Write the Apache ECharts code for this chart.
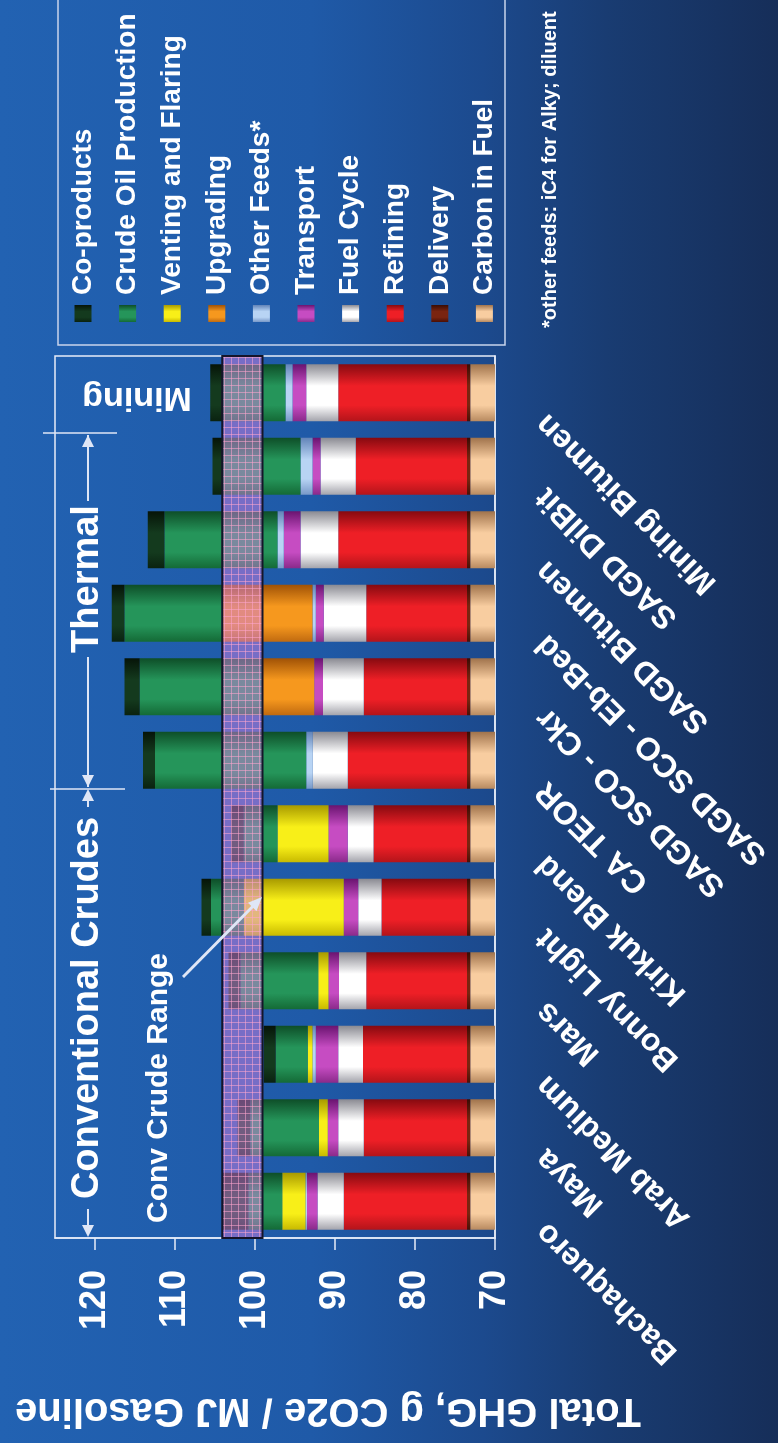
<!DOCTYPE html>
<html><head><meta charset="utf-8">
<script src="https://cdn.jsdelivr.net/npm/echarts@6/dist/echarts.min.js"></script>
<style>
html,body{margin:0;padding:0;background:#1c4a8e;overflow:hidden;}
#wrap{position:absolute;left:0;top:0;width:778px;height:1443px;overflow:hidden;}
#chart{position:absolute;left:0;top:0;width:1443px;height:778px;transform-origin:0 0;transform:translate(0,1443px) rotate(-90deg);
background:linear-gradient(to bottom,#2262b2 0%,#1f5aa8 40%,#1c4a8e 62%,#193c72 78%,#162e59 100%);}
</style></head><body>
<div id="wrap"><div id="chart"></div></div>
<script>
const categories = ['Bachaquero','Maya','Arab Medium','Mars','Bonny Light','Kirkuk Blend','CA TEOR','SAGD SCO - Ckr','SAGD SCO - Eb-Bed','SAGD Bitumen','SAGD DilBit','Mining Bitumen'];
const valueTicks = [70, 80, 90, 100, 110, 120];
const carbonInFuel = [73.1, 73.1, 73.1, 73.1, 73.1, 73.1, 73.1, 73.1, 73.1, 73.1, 73.1, 73.1];
const delivery     = [0.4, 0.4, 0.4, 0.4, 0.4, 0.4, 0.4, 0.4, 0.4, 0.4, 0.4, 0.4];
const refining     = [15.4, 12.9, 13.0, 12.6, 10.7, 11.7, 14.9, 12.9, 12.6, 16.1, 13.9, 16.1];
const fuelCycle    = [3.3, 3.2, 3.1, 3.4, 2.9, 3.2, 4.4, 5.1, 5.3, 4.7, 4.4, 4.0];
const transport    = [1.3, 1.3, 2.8, 1.3, 1.8, 2.4, 0, 1.1, 1.0, 2.1, 1.0, 1.7];
const otherFeeds   = [0.2, 0, 0.4, 0, 0, 0, 0.8, 0, 0.4, 0.8, 1.5, 0.9];
const upgrading    = [0, 0, 0, 0, 0, 0, 0, 6.5, 11.3, 0, 0, 0];
const venting      = [2.9, 1.1, 0.6, 1.3, 12.5, 6.4, 0, 0, 0, 0, 0, 0];
const crudeProd    = [4.2, 8.6, 4.0, 9.7, 4.1, 4.2, 18.9, 15.3, 12.2, 14.1, 9.7, 7.8];
const coProducts   = [3.3, 1.6, 1.5, 1.5, 1.2, 1.6, 1.5, 1.9, 1.6, 2.1, 1.3, 1.6];
const convRange    = [99.06, 104.1];

const FONT = 'Liberation Sans, Arial, Helvetica, sans-serif';
function cyl(edge, bright, edge2) {
  return new echarts.graphic.LinearGradient(0, 0, 1, 0, [
    {offset: 0, color: edge}, {offset: 0.28, color: bright}, {offset: 0.62, color: bright}, {offset: 1, color: edge2 || edge}
  ]);
}
const seriesDefs = [
  ['Carbon in Fuel', carbonInFuel, cyl('#b88a60', '#f8cda0', '#a0734c')],
  ['Delivery', delivery, cyl('#4a1006', '#7a2410', '#3a0c04')],
  ['Refining', refining, cyl('#b4141a', '#ee1f26', '#860a10')],
  ['Fuel Cycle', fuelCycle, cyl('#a4a4ac', '#ffffff', '#8a8a92')],
  ['Transport', transport, cyl('#8a2a8a', '#c64cc2', '#6a1470')],
  ['Other Feeds*', otherFeeds, cyl('#7898c8', '#b8d4f4', '#6284b8')],
  ['Upgrading', upgrading, cyl('#c06a10', '#f6981e', '#a05206')],
  ['Venting and Flaring', venting, cyl('#c8ba00', '#f8ef18', '#a89a00')],
  ['Crude Oil Production', crudeProd, cyl('#146a36', '#25955a', '#0e4e28')],
  ['Co-products', coProducts, cyl('#0a2210', '#143a1e', '#061408')]
];

const pat = document.createElement('canvas');
pat.width = 7; pat.height = 7;
const pg = pat.getContext('2d');
pg.fillStyle = 'rgba(205,125,225,0.5)'; pg.fillRect(0, 0, 7, 7);
pg.fillStyle = 'rgba(255,165,205,0.55)'; pg.fillRect(0, 0, 7, 1); pg.fillRect(0, 0, 1, 7);

const series = seriesDefs.map(function (d, i) {
  const s = {
    name: d[0], type: 'bar', stack: 'total', barWidth: 57, data: d[1],
    itemStyle: {color: d[2]}, emphasis: {disabled: true}, animation: false
  };
  if (i === seriesDefs.length - 1) {
    s.markArea = {
      silent: true, z: 10,
      itemStyle: {color: {image: pat, repeat: 'repeat'}, borderColor: '#15152a', borderWidth: 2},
      data: [[{yAxis: convRange[0]}, {yAxis: convRange[1]}]]
    };
  }
  return s;
});

const W = '#ffffff', LINE = '#dfe6f6';
function arrowHead(tx, ty, dx, dy, len, half) {
  const bx = tx - dx * len, by = ty - dy * len;
  return {type: 'polygon', silent: true, z: 20,
    shape: {points: [[tx, ty], [bx - dy * half, by + dx * half], [bx + dy * half, by - dx * half]]},
    style: {fill: LINE}};
}
function seg(x1, y1, x2, y2, w) {
  return {type: 'line', silent: true, z: 20, shape: {x1: x1, y1: y1, x2: x2, y2: y2}, style: {stroke: LINE, lineWidth: w || 2}};
}
function txt(t, x, y, size, opts) {
  return Object.assign({type: 'text', silent: true, z: 20, x: x, y: y,
    style: {text: t, fill: W, font: 'bold ' + size + 'px ' + FONT, textAlign: 'center', textVerticalAlign: 'middle'}}, opts || {});
}
const cdx = 80 / Math.hypot(80, 79), cdy = 79 / Math.hypot(80, 79);
const graphics = [
  {type: 'rect', silent: true, shape: {x: 1098, y: 58, width: 370, height: 447}, style: {fill: 'none', stroke: '#c8d4ec', lineWidth: 1.5}},
  seg(654, 50, 654, 125, 1.5), seg(1010, 43, 1010, 117, 1.5),
  seg(208, 88, 234, 88), arrowHead(206, 88, -1, 0, 12, 6),
  seg(636, 88, 652, 88), arrowHead(654, 88, 1, 0, 12, 6),
  txt('Conventional Crudes', 435, 88, 38),
  seg(656, 88, 786, 88), arrowHead(656, 88, -1, 0, 12, 6),
  seg(942, 88, 1008, 88), arrowHead(1008, 88, 1, 0, 12, 6),
  txt('Thermal', 864, 88, 38),
  txt('Mining', 1046, 137, 34, {rotation: Math.PI / 2}),
  txt('Conv Crude Range', 355, 159, 30),
  seg(466, 183, 546 - cdx * 10, 262 - cdy * 10, 3), arrowHead(546, 262, cdx, cdy, 14, 6),
  txt('Total GHG, g CO2e / MJ Gasoline', 33, 328, 40, {rotation: Math.PI / 2}),
  {type: 'text', silent: true, x: 1115, y: 550, style: {text: '*other feeds: iC4 for Alky; diluent', fill: W, font: 'bold 20px ' + FONT, textAlign: 'left', textVerticalAlign: 'middle'}}
];

const chart = echarts.init(document.getElementById('chart'), null, {renderer: 'canvas'});
chart.setOption({
  backgroundColor: 'transparent',
  animation: false,
  textStyle: {fontFamily: FONT},
  grid: {left: 205, right: 356, top: 55, bottom: 283, show: true, borderColor: '#e6ecf8', borderWidth: 1.5, backgroundColor: 'transparent', outerBoundsMode: 'none'},
  legend: {
    orient: 'vertical', left: 1116, top: 63, itemWidth: 17, itemHeight: 17, itemGap: 14.6,
    selectedMode: false, icon: 'rect',
    textStyle: {color: W, fontSize: 28, fontWeight: 'bold', fontFamily: FONT, lineHeight: 30, padding: [0, 0, 0, 5]},
    data: ['Co-products', 'Crude Oil Production', 'Venting and Flaring', 'Upgrading', 'Other Feeds*', 'Transport', 'Fuel Cycle', 'Refining', 'Delivery', 'Carbon in Fuel']
  },
  xAxis: {
    type: 'category', data: categories,
    axisLine: {lineStyle: {color: '#e6ecf8', width: 1.5}},
    axisTick: {length: 10, lineStyle: {color: '#e6ecf8', width: 1.5}},
    axisLabel: {rotate: 45, interval: 0, color: W, fontSize: 32, fontWeight: 'bold', fontFamily: FONT, margin: 43, verticalAlign: 'bottom', padding: [0, 21, 0, 0]}
  },
  yAxis: {
    type: 'value', min: 70, max: 125, interval: 10,
    axisLine: {show: true, lineStyle: {color: '#e6ecf8', width: 1.5}},
    axisTick: {show: true, length: 12, customValues: valueTicks, lineStyle: {color: '#e6ecf8', width: 1.5}},
    axisLabel: {color: W, fontSize: 36, fontWeight: 'bold', fontFamily: FONT, margin: 32, customValues: valueTicks},
    splitLine: {show: false}
  },
  series: series,
  graphic: graphics
});
</script>
</body></html>
